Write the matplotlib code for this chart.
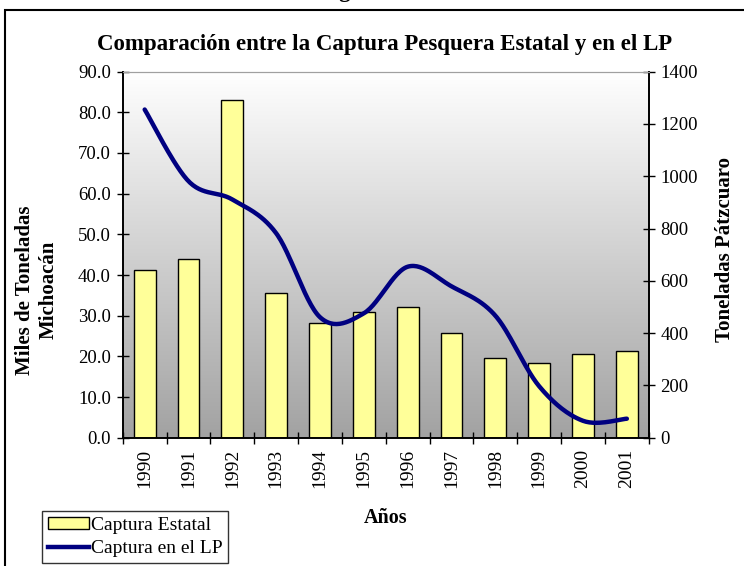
import numpy as np
import matplotlib
matplotlib.use("Agg")
import matplotlib.pyplot as plt
from matplotlib.patches import Rectangle, Patch
from matplotlib.lines import Line2D

years = ["1990", "1991", "1992", "1993", "1994", "1995", "1996", "1997", "1998", "1999", "2000", "2001"]
captura_estatal = [41.2, 43.9, 82.9, 35.6, 28.2, 30.8, 32.2, 25.7, 19.5, 18.5, 20.7, 21.4]
captura_lp = [1255, 981, 911, 782, 461, 476, 654, 579, 467, 197, 65, 73]
left_ticks = [0, 10, 20, 30, 40, 50, 60, 70, 80, 90]
right_ticks = [0, 200, 400, 600, 800, 1000, 1200, 1400]

plt.rcParams['font.family'] = ['Liberation Serif', 'DejaVu Serif']

fig = plt.figure(figsize=(7.44, 5.66), dpi=100)
ax = fig.add_axes([0.165, 0.2265, 0.707, 0.647])
ax2 = ax.twinx()

n = len(years)
x = np.arange(n)
ax.set_xlim(-0.5, n - 0.5)
ax.set_ylim(0, 90)
ax2.set_ylim(0, 1400)

# gradient background
grad = np.linspace(1, 0, 256).reshape(-1, 1)
ax.imshow(grad, cmap=matplotlib.colors.LinearSegmentedColormap.from_list('g', ['#a2a2a2', '#ffffff']),
          aspect='auto', extent=[-0.5, n - 0.5, 0, 90], zorder=0, vmin=0, vmax=1)

ax.bar(x, captura_estatal, width=0.5, color='#ffff99', edgecolor='black', linewidth=1.0, zorder=2)

# smoothed line (Excel-like Catmull-Rom Bezier)
px = x.astype(float)
py = np.array(captura_lp, dtype=float)
sx, sy = [], []
t = np.linspace(0, 1, 30)
for i in range(n - 1):
    p0 = np.array([px[i], py[i]])
    p3 = np.array([px[i + 1], py[i + 1]])
    pm = np.array([px[i - 1], py[i - 1]]) if i > 0 else p0
    pp = np.array([px[i + 2], py[i + 2]]) if i + 2 < n else p3
    c1 = p0 + (p3 - pm) / 6
    c2 = p3 - (pp - p0) / 6
    b = ((1 - t) ** 3)[:, None] * p0 + (3 * (1 - t) ** 2 * t)[:, None] * c1 + \
        (3 * (1 - t) * t ** 2)[:, None] * c2 + (t ** 3)[:, None] * p3
    sx.extend(b[:, 0]); sy.extend(b[:, 1])
ax2.plot(sx, sy, color='#000080', linewidth=3.2, solid_capstyle='round', zorder=3)

# ticks
ax.set_xticks(np.arange(n + 1) - 0.5, minor=False)
ax.set_xticklabels([])
ax.set_xticks(x, minor=True)
ax.set_xticklabels(years, minor=True, rotation=90, fontsize=14)
ax.tick_params(axis='x', which='minor', length=0, pad=8)
ax.tick_params(axis='x', which='major', direction='inout', length=9, width=1)
ax.set_yticks(left_ticks)
ax.set_yticklabels([f"{v:.1f}" for v in left_ticks], fontsize=13.5)
ax.tick_params(axis='y', direction='inout', length=9, width=1, pad=4)
ax2.set_yticks(right_ticks)
ax2.set_yticklabels([str(v) for v in right_ticks], fontsize=13.5)
ax2.tick_params(axis='y', direction='inout', length=9, width=1, pad=4)

for a in (ax, ax2):
    a.spines['top'].set_color('#a0a0a0')
    for s in ('left', 'right', 'bottom'):
        a.spines[s].set_color('black')
        a.spines[s].set_linewidth(1.2)

fig.text(0.517, 0.922, "Comparación entre la Captura Pesquera Estatal y en el LP",
         ha='center', va='center', fontsize=16.5, fontweight='bold')
fig.text(0.05, 0.488, "Miles de Toneladas\nMichoacán", rotation=90, ha='center', va='center',
         fontsize=15, fontweight='bold', linespacing=1.25)
fig.text(0.975, 0.56, "Toneladas Pátzcuaro", rotation=90, ha='center', va='center',
         fontsize=15, fontweight='bold')
fig.text(0.518, 0.085, "Años", ha='center', va='center', fontsize=14.5, fontweight='bold')
fig.text(0.485, 1.005, "Figura 4", ha='center', va='baseline', fontsize=16.5, fontweight='bold')

# outer frame
fig.patches.append(Rectangle((5 / 744, -0.2), 1.2, 0.2 + (566 - 10) / 566, transform=fig.transFigure,
                             fill=False, edgecolor='black', linewidth=1.5))

handles = [Patch(facecolor='#ffff99', edgecolor='black', linewidth=1.0),
           Line2D([0], [0], color='#000080', linewidth=3.2)]
leg = fig.legend(handles, ["Captura Estatal", "Captura en el LP"], loc='upper left',
                 bbox_to_anchor=(42 / 744, (566 - 510.7) / 566), fontsize=14, frameon=True,
                 fancybox=False, edgecolor='black', handlelength=2.1, handleheight=0.55,
                 handletextpad=0.1, borderpad=0.3, labelspacing=0.35, borderaxespad=0)
leg.get_frame().set_linewidth(1.0)

fig.savefig("out.png", dpi=100)
